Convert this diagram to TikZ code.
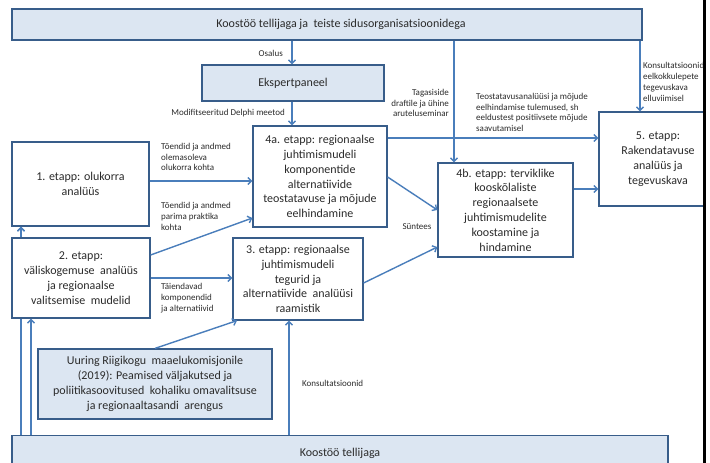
\documentclass[tikz,border=0pt]{standalone}
\usepackage{fontspec}
\setmainfont{Carlito}
\usetikzlibrary{arrows.meta}
\definecolor{bfill}{HTML}{DCE6F2}
\definecolor{bdraw}{HTML}{385D8A}
\definecolor{aline}{HTML}{4A7EBB}
\definecolor{btext}{HTML}{2B2B2B}
\begin{document}
\begin{tikzpicture}[x=1pt,y=-1pt,
  box/.style={draw=bdraw,line width=1.2pt,fill=white,inner sep=1pt,align=center,text=btext,font=\fontsize{12}{14.8}\selectfont},
  bbox/.style={box,fill=bfill},
  arr/.style={draw=aline,line width=1.4pt,-{Straight Barb[length=3.5pt,width=7pt]}},
  lab/.style={font=\fontsize{9}{10.8}\selectfont,inner sep=0pt,align=left,text=btext}]
\clip (0,0) rectangle (710,463);
\fill[white] (0,0) rectangle (710,463);
% boxes
\node[bbox,minimum width=630pt,minimum height=31pt] (top) at (327,24.5) {\hspace*{28pt}Koostöö tellijaga ja \ teiste sidusorganisatsioonidega};
\node[bbox,minimum width=182pt,minimum height=36pt] (eksp) at (293,83) {Ekspertpaneel};
\node[box,minimum width=137pt,minimum height=84pt] (n1) at (80.5,184) {1. etapp: olukorra\\analüüs};
\node[bbox,minimum width=656pt,minimum height=36pt,anchor=north] (bot) at (340,435) {\raisebox{3pt}{Koostöö tellijaga}};
% arrow bottom -> 1 (passes behind box 2)
\draw[arr] (bot.north -| 21,0) -- (n1.south -| 21,0);
\node[box,minimum width=138pt,minimum height=80pt] (n2) at (81,278) {2. etapp:\\väliskogemuse \ analüüs\\ja regionaalse\\valitsemise \ mudelid};
\node[box,minimum width=130pt,minimum height=82pt] (n3) at (298,279) {3. etapp: regionaalse\\juhtimismudeli\\tegurid ja\\alternatiivide \ analüüsi\\raamistik};
\node[box,minimum width=134pt,minimum height=101pt] (n4a) at (320,176.5) {4a. etapp: regionaalse\\juhtimismudeli\\komponentide\\alternatiivide\\teostatavuse ja mõjude\\eelhindamine};
\node[box,minimum width=135pt,minimum height=94pt] (n4b) at (505.5,210) {4b. etapp: terviklike\\kooskõlaliste\\regionaalsete\\juhtimismudelite\\koostamine ja\\hindamine};
\node[box,minimum width=118pt,minimum height=94pt] (n5) at (658,159) {5. etapp:\\Rakendatavuse\\analüüs ja\\tegevuskava};
\node[bbox,minimum width=234pt,minimum height=70pt] (uur) at (155,384) {Uuring Riigikogu \ maaelukomisjonile\\(2019): Peamised väljakutsed ja\\poliitikasoovitused \ kohaliku omavalitsuse\\ja regionaaltasandi \ arengus};
% connectors
\draw[arr] (top.south -| 292,0) -- (eksp.north -| 292,0);
\draw[arr] (eksp.south -| 292,0) -- (n4a.north -| 292,0);
\draw[arr] (top.south -| 454,0) -- (n4b.north -| 454,0);
\draw[arr] (top.south -| 640,0) -- (n5.north -| 640,0);
\draw[arr] (n1.east |- 0,181) -- (n4a.west |- 0,181);
\draw[arr] (n2.east |- 0,255) -- (n4a.west |- 0,218);
\draw[arr] (n2.east |- 0,278) -- (n3.west |- 0,278);
\draw[arr] (n2.north -| 21,0) -- (n1.south -| 21,0);
\draw[arr] (bot.north -| 31,0) -- (n2.south -| 31,0);
\draw[arr] (uur.north) -- (n3.south west -| 237,0);
\draw[arr] (bot.north -| 289,0) -- (n3.south -| 289,0);
\draw[arr] (n4a.east |- 0,138) -- (n5.west |- 0,138);
\draw[arr] (n4a.east |- 0,177) -- (n4b.west |- 0,210);
\draw[arr] (n3.east |- 0,283) -- (n4b.west |- 0,247);
\draw[arr] (n4b.east |- 0,189) -- (n5.west |- 0,189);
% labels
\node[lab,anchor=east] (lOs) at (283,53) {Osalus};
\node[lab,anchor=east] (lDel) at (285,113) {Modifitseeritud Delphi meetod};
\node[lab,anchor=east,align=right] (lTag) at (449,103) {Tagasiside\\draftile ja ühine\\aruteluseminar};
\node[lab,anchor=west] (lTeo) at (476,112.5) {Teostatavusanalüüsi ja mõjude\\eelhindamise tulemused, sh\\eeldustest positiivsete mõjude\\saavutamisel};
\node[lab,anchor=west] (lKon) at (643,82) {Konsultatsioonid\\eelkokkulepete\\tegevuskava\\elluviimisel};
\node[lab,anchor=west] (l1) at (161,157) {Tõendid ja andmed\\olemasoleva\\olukorra kohta};
\node[lab,anchor=west] (l2) at (161,216.5) {Tõendid ja andmed\\parima praktika\\kohta};
\node[lab,anchor=west] (l3) at (161,298) {Täiendavad\\komponendid\\ja alternatiivid};
\node[lab] (lSun) at (417,227) {Süntees};
\node[lab,anchor=west] (lKons) at (302,383) {Konsultatsioonid};
% right edge crop
\fill[white] (706,0) rectangle (710,463);
\fill[black] (703,0) rectangle (706,463);
\end{tikzpicture}
\end{document}
